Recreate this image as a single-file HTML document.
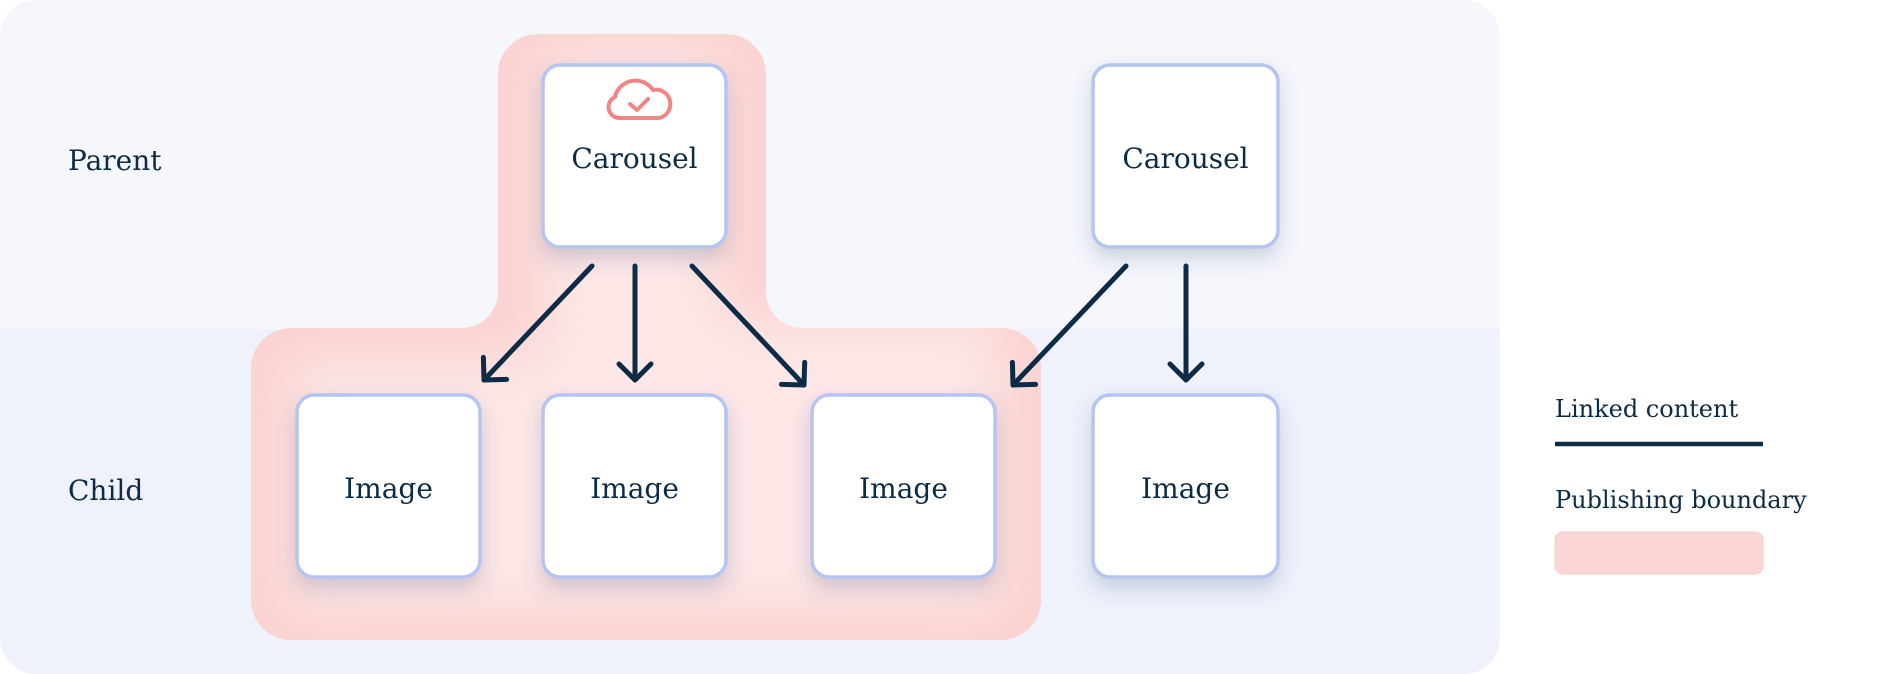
<!DOCTYPE html>
<html><head><meta charset="utf-8"><style>
html,body{margin:0;padding:0;background:#fff;width:1880px;height:674px;overflow:hidden}
text{font-family:"DejaVu Serif","Liberation Serif",serif;fill:#0d2b45}
</style></head><body>
<svg width="1880" height="674" viewBox="0 0 1880 674" xmlns="http://www.w3.org/2000/svg">
<defs>
<clipPath id="panel"><rect x="0" y="0" width="1500" height="674" rx="36"/></clipPath>
<filter id="sh" x="-30%" y="-30%" width="160%" height="170%"><feDropShadow dx="0" dy="10" stdDeviation="10" flood-color="#3a4a7a" flood-opacity="0.22"/></filter>
<filter id="bl" x="-30%" y="-30%" width="160%" height="160%"><feGaussianBlur stdDeviation="28"/></filter>
<clipPath id="bclip"><path id="bp" d="M538,34 H726 A40 40 0 0 1 766 74 V292 A36 36 0 0 0 802 328 H1001 A40 40 0 0 1 1041 368 V600 A40 40 0 0 1 1001 640 H291 A40 40 0 0 1 251 600 V368 A40 40 0 0 1 291 328 H462 A36 36 0 0 0 498 292 V74 A40 40 0 0 1 538 34 Z"/></clipPath>
<marker id="ah" markerUnits="userSpaceOnUse" markerWidth="44" markerHeight="44" refX="22" refY="22" orient="auto">
<path d="M6,6 L22,22 L6,38" fill="none" stroke="#0d2b45" stroke-width="5" stroke-linecap="round" stroke-linejoin="round"/>
</marker>
</defs>
<g clip-path="url(#panel)">
<rect x="0" y="0" width="1500" height="329" fill="#f6f7fc"/>
<rect x="0" y="329" width="1500" height="345" fill="#eff2fb"/>
</g>
<g clip-path="url(#bclip)">
<rect x="240" y="20" width="820" height="640" fill="#fad2d1"/>
<path d="M545,50 H720 V320 H1000 V610 H290 V360 H545 Z" fill="#fde7e7" filter="url(#bl)"/>
</g>
<text x="68" y="170" font-size="28">Parent</text>
<text x="68" y="500" font-size="28">Child</text>
<g stroke="#0d2b45" stroke-width="5" stroke-linecap="round" fill="none">
<line x1="592" y1="266" x2="484" y2="380" marker-end="url(#ah)"/>
<line x1="635" y1="266" x2="635" y2="380" marker-end="url(#ah)"/>
<line x1="692" y1="266" x2="804" y2="385" marker-end="url(#ah)"/>
<line x1="1126" y1="266" x2="1013" y2="385" marker-end="url(#ah)"/>
<line x1="1186" y1="266" x2="1186" y2="380" marker-end="url(#ah)"/>
</g>
<g fill="#fff" stroke="#b5c4f0" stroke-width="3.5" filter="url(#sh)">
<rect x="543" y="65" width="183" height="182" rx="17"/>
<rect x="1093" y="65" width="185" height="182" rx="17"/>
<rect x="297" y="395" width="183" height="182" rx="17"/>
<rect x="543" y="395" width="183" height="182" rx="17"/>
<rect x="812" y="395" width="183" height="182" rx="17"/>
<rect x="1093" y="395" width="185" height="182" rx="17"/>
</g>
<g fill="none" stroke="#f08585" stroke-width="4" stroke-linecap="round" stroke-linejoin="round">
<path d="M619,118 A11 11 0 0 1 615 97 A21 21 0 0 1 653 90 A14 14 0 0 1 659 118 Z"/>
<path d="M630,104 L637,110 L648,99"/>
</g>
<g font-size="28" text-anchor="middle">
<text x="634.5" y="168">Carousel</text>
<text x="1185.5" y="168">Carousel</text>
<text x="388.5" y="498">Image</text>
<text x="634.5" y="498">Image</text>
<text x="903.5" y="498">Image</text>
<text x="1185.5" y="498">Image</text>
</g>
<text x="1555" y="417" font-size="24">Linked content</text>
<line x1="1555" y1="444" x2="1763" y2="444" stroke="#0d2b45" stroke-width="4.5"/>
<text x="1555" y="508" font-size="24">Publishing boundary</text>
<rect x="1555" y="532" width="208" height="42" rx="8" fill="#fbd6d6" stroke="#f8caca" stroke-width="1"/>
</svg>
</body></html>
